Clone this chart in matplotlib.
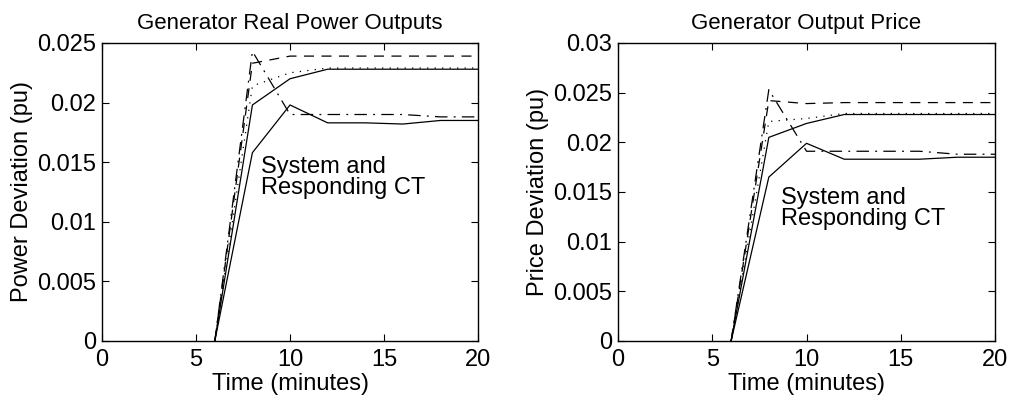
import numpy as np
import matplotlib
matplotlib.use("Agg")
import matplotlib.pyplot as plt

plt.rcParams.update({'font.size': 17, 'font.family': 'Liberation Sans'})

# time axis (minutes), all deviations are zero up to minute 6
t = [6, 8, 10, 12, 14, 16, 18, 20]

# generator real power outputs (pu)
pw_solid_hi = [0, 0.0198, 0.0220, 0.0228, 0.0228, 0.0228, 0.0228, 0.0228]
pw_solid_lo = [0, 0.0158, 0.0198, 0.0183, 0.0183, 0.0182, 0.0185, 0.0185]
pw_dashed = [0, 0.0233, 0.0239, 0.0239, 0.0239, 0.0239, 0.0239, 0.0239]
pw_dotted = [0, 0.0214, 0.0225, 0.0229, 0.0229, 0.0229, 0.0229, 0.0229]
pw_dashdot = [0, 0.0243, 0.0190, 0.0190, 0.0190, 0.0190, 0.0188, 0.0188]

# generator output price (pu)
pr_solid_hi = [0, 0.0205, 0.0219, 0.0228, 0.0228, 0.0228, 0.0228, 0.0228]
pr_solid_lo = [0, 0.0165, 0.0199, 0.0183, 0.0183, 0.0183, 0.0185, 0.0185]
pr_dashed = [0, 0.0242, 0.0239, 0.0240, 0.0240, 0.0240, 0.0240, 0.0240]
pr_dotted = [0, 0.0221, 0.0224, 0.0229, 0.0229, 0.0229, 0.0229, 0.0229]
pr_dashdot = [0, 0.0253, 0.0191, 0.0191, 0.0191, 0.0191, 0.0188, 0.0188]

xticks = [0, 5, 10, 15, 20]
pw_yticks = [0, 0.005, 0.01, 0.015, 0.02, 0.025]
pw_ylabels = ['0', '0.005', '0.01', '0.015', '0.02', '0.025']
pr_yticks = [0, 0.005, 0.01, 0.015, 0.02, 0.025, 0.03]
pr_ylabels = ['0', '0.005', '0.01', '0.015', '0.02', '0.025', '0.03']

fig = plt.figure(figsize=(10.1, 4.04), dpi=100)
ax1 = fig.add_axes([0.101, 0.156, 0.3723, 0.7376])
ax2 = fig.add_axes([0.6119, 0.156, 0.3733, 0.7376])


def draw(ax, hi, lo, da, do, dd):
    lw = 0.9
    ax.plot(t, hi, 'k-', lw=lw)
    ax.plot(t, lo, 'k-', lw=lw)
    ax.plot(t, da, 'k', lw=lw, linestyle=(0, (8, 6)))
    ax.plot(t, do, 'k', lw=lw, linestyle=(0, (1, 5)))
    ax.plot(t, dd, 'k', lw=lw, linestyle=(0, (10, 5, 1.5, 5)))
    ax.set_xlim(0, 20)
    ax.set_xticks(xticks)
    ax.tick_params(direction='in', top=True, right=True, length=5, width=0.8, pad=4)
    ax.tick_params(axis='x', pad=6)
    for s in ax.spines.values():
        s.set_linewidth(1.0)
    ax.set_xlabel('Time (minutes)', labelpad=1)


draw(ax1, pw_solid_hi, pw_solid_lo, pw_dashed, pw_dotted, pw_dashdot)
ax1.set_ylim(0, 0.025)
ax1.set_yticks(pw_yticks)
ax1.set_yticklabels(pw_ylabels)
ax1.set_ylabel('Power Deviation (pu)', labelpad=3)
ax1.set_title('Generator Real Power Outputs', fontsize=16, pad=10)
ax1.text(8.45, 0.0155, 'System and\nResponding CT', va='top', ha='left',
         linespacing=0.95, fontsize=17)

draw(ax2, pr_solid_hi, pr_solid_lo, pr_dashed, pr_dotted, pr_dashdot)
ax2.set_ylim(0, 0.03)
ax2.set_yticks(pr_yticks)
ax2.set_yticklabels(pr_ylabels)
ax2.set_ylabel('Price Deviation (pu)', labelpad=3)
ax2.set_title('Generator Output Price', fontsize=16, pad=10)
ax2.text(8.65, 0.0155, 'System and\nResponding CT', va='top', ha='left',
         linespacing=0.95, fontsize=17)

fig.savefig('out.png', dpi=100)
